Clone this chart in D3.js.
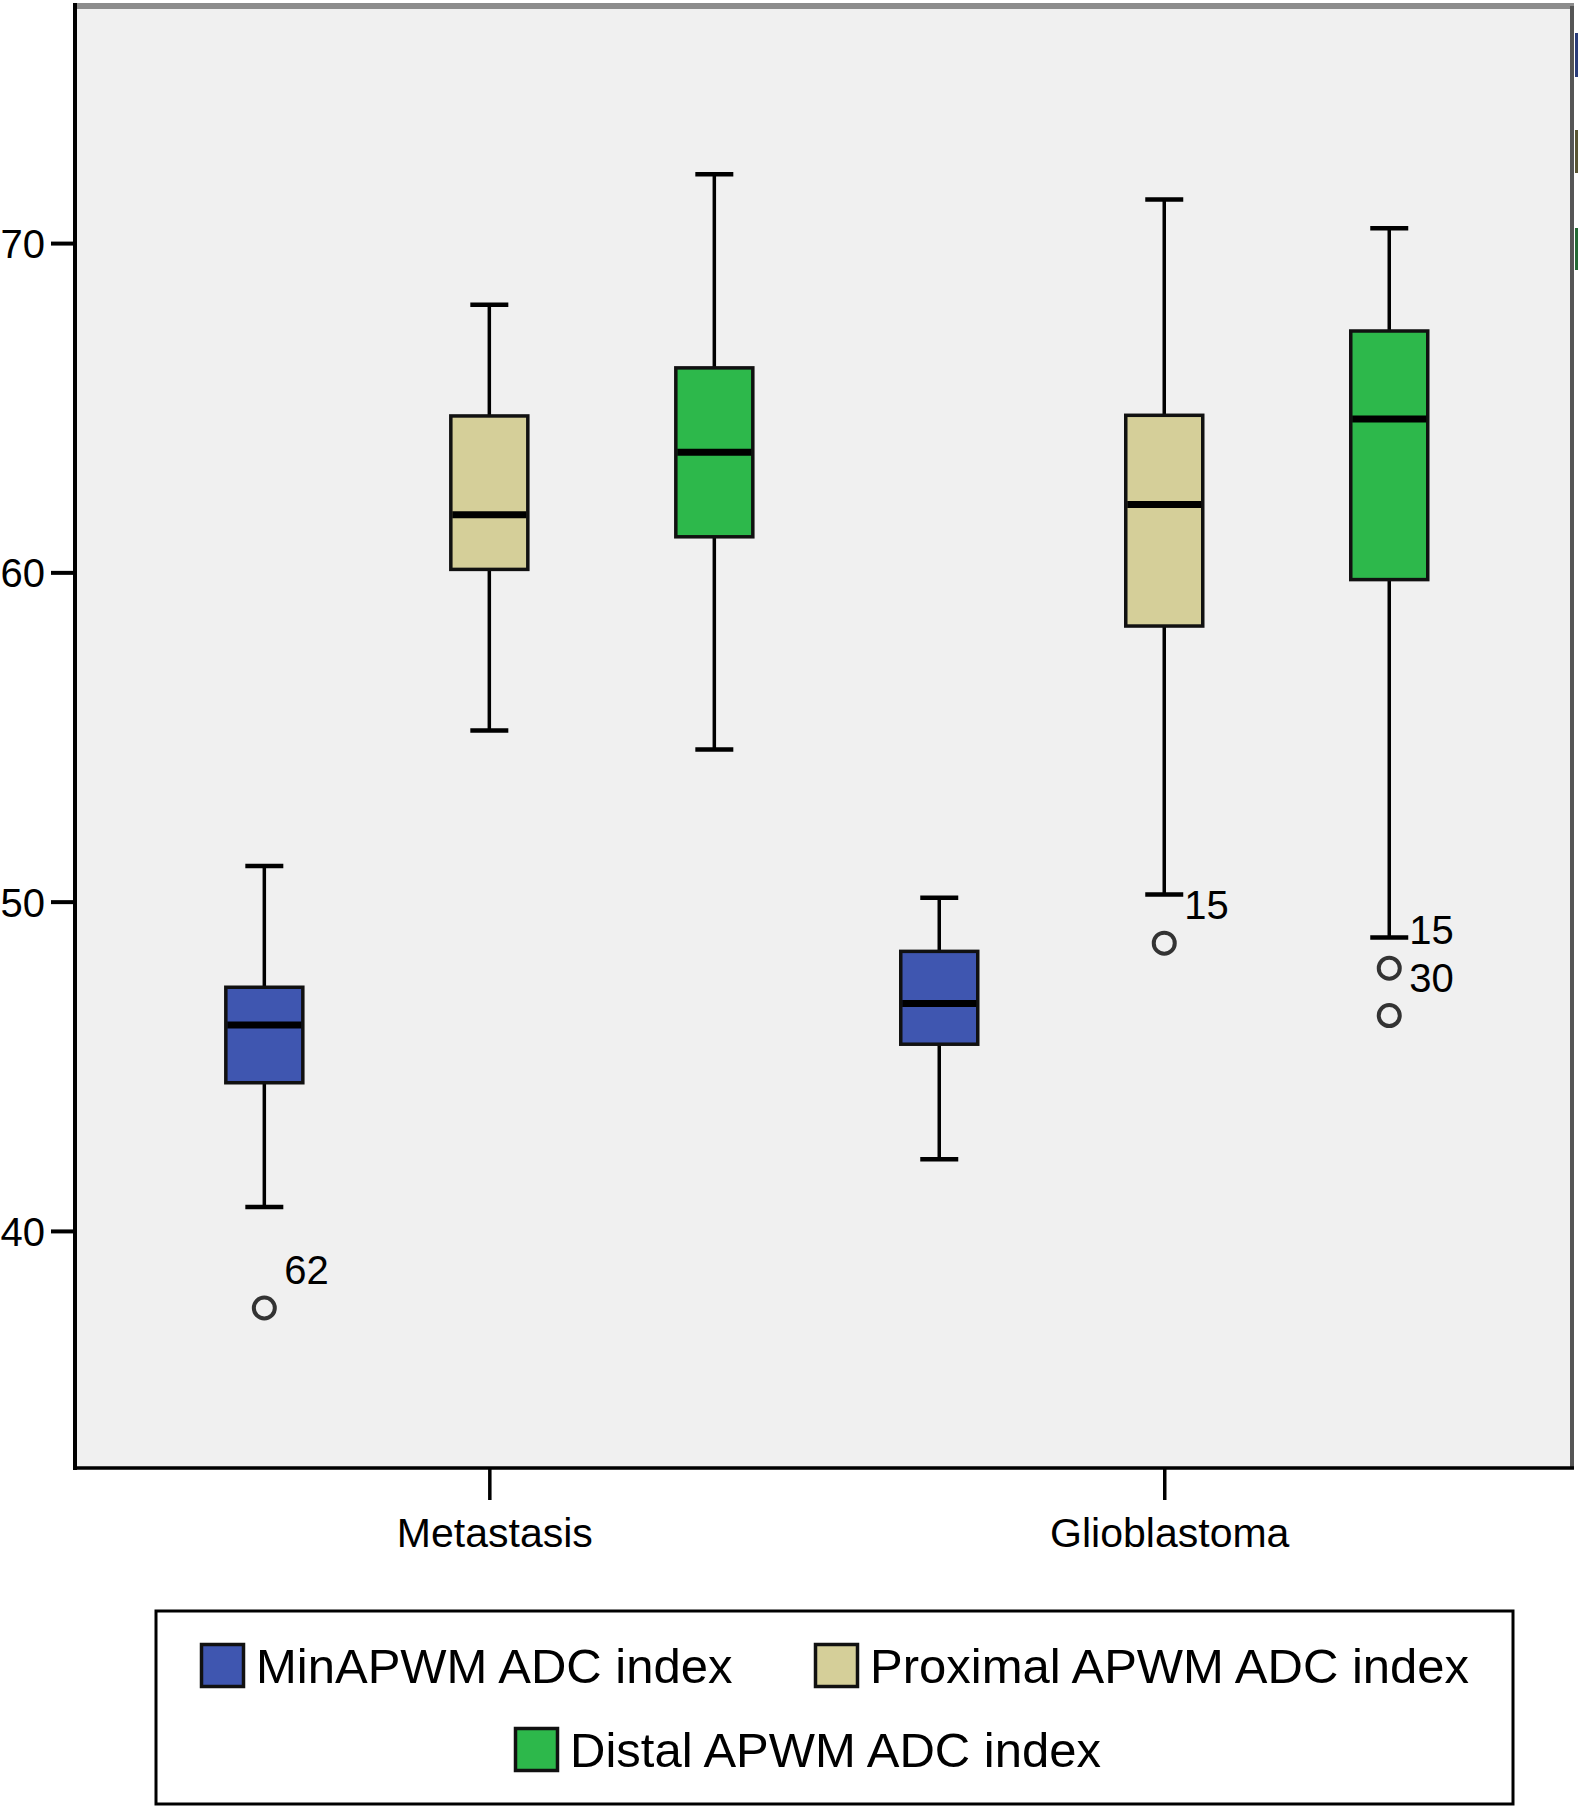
<!DOCTYPE html>
<html>
<head>
<meta charset="utf-8">
<script src="https://cdn.jsdelivr.net/npm/d3@7"></script>
<style>
  html, body { margin: 0; padding: 0; background: #ffffff; }
  svg { display: block; }
  text { font-family: "Liberation Sans", Arial, Helvetica, sans-serif; fill: #000; }
</style>
</head>
<body>
<svg id="chart" width="1578" height="1806"></svg>
<script>
// ---------- data ----------
const categories = ["Metastasis", "Glioblastoma"];
const series = ["MinAPWM ADC index", "Proximal APWM ADC index", "Distal APWM ADC index"];
const seriesColors = ["#3f56b0", "#d5cf99", "#2db84b"];
const yTicks = [40, 50, 60, 70];

// [whiskerLow, q1, median, q3, whiskerHigh] per series, per category
const minAPWM      = [[40.73, 44.50, 46.25, 47.40, 51.08], [42.18, 45.67, 46.91, 48.49, 50.12]];
const proximalAPWM = [[55.20, 60.09, 61.75, 64.75, 68.13], [50.22, 58.37, 62.06, 64.77, 71.32]];
const distalAPWM   = [[54.62, 61.08, 63.65, 66.21, 72.09], [48.91, 59.78, 64.66, 67.33, 70.45]];

// outliers: [category index, series index, value, label]
const outliers = [
  [0, 0, 37.66, "62"],
  [1, 1, 48.74, "15"],
  [1, 2, 47.98, "15"],
  [1, 2, 46.54, "30"]
];

const seriesData = [minAPWM, proximalAPWM, distalAPWM];

// ---------- layout ----------
const svg = d3.select("#chart");
const plot = { left: 75, right: 1572, top: 6, bottom: 1468 };

const y = d3.scaleLinear().domain([32.8, 77.2]).range([plot.bottom, plot.top]);
const x = d3.scalePoint().domain(categories).range([plot.left, plot.right]).padding(0.609).align(0.504);
const xs = d3.scalePoint().domain(series).range([-225, 225]);

const boxW = 77;
const capW = 38;

// plot background
svg.append("rect")
  .attr("x", plot.left).attr("y", plot.top)
  .attr("width", plot.right - plot.left).attr("height", plot.bottom - plot.top)
  .attr("fill", "#f0f0f0");

// frame: top (grey) and right (dark grey)
svg.append("line")
  .attr("x1", plot.left).attr("x2", plot.right + 2)
  .attr("y1", plot.top).attr("y2", plot.top)
  .attr("stroke", "#8c8c8c").attr("stroke-width", 6);
svg.append("line")
  .attr("x1", plot.right).attr("x2", plot.right)
  .attr("y1", plot.top).attr("y2", plot.bottom)
  .attr("stroke", "#555").attr("stroke-width", 4);

// small cropped marks at far right edge
const edgeMarks = [["#2b3d7a", 33, 44], ["#5a5634", 130, 43], ["#256b36", 228, 42]];
svg.selectAll("rect.edge").data(edgeMarks).enter().append("rect")
  .attr("class", "edge")
  .attr("x", 1575).attr("width", 3)
  .attr("y", d => d[1]).attr("height", d => d[2])
  .attr("fill", d => d[0]);

// ---------- axes ----------
const yAxis = d3.axisLeft(y).tickValues(yTicks).tickSize(24).tickPadding(6).tickFormat(d3.format("d"));
const gy = svg.append("g").attr("transform", `translate(${plot.left},0)`).call(yAxis);
gy.select(".domain").remove();
gy.selectAll(".tick line").attr("stroke", "#000").attr("stroke-width", 4);
gy.selectAll(".tick text").attr("font-size", 40).attr("dy", "0.36em").style("fill", "#000");

const xAxis = d3.axisBottom(x).tickSize(32).tickPadding(10);
const gx = svg.append("g").attr("transform", `translate(0,${plot.bottom})`).call(xAxis);
gx.select(".domain").remove();
gx.selectAll(".tick line").attr("stroke", "#000").attr("stroke-width", 3.5);
gx.selectAll(".tick text").attr("font-size", 41).attr("dx", 5).attr("dy", "0.9em").style("fill", "#000");

// axis lines
svg.append("line")
  .attr("x1", plot.left).attr("x2", plot.left)
  .attr("y1", plot.top - 3).attr("y2", plot.bottom + 2)
  .attr("stroke", "#000").attr("stroke-width", 4);
svg.append("line")
  .attr("x1", plot.left).attr("x2", plot.right + 2)
  .attr("y1", plot.bottom).attr("y2", plot.bottom)
  .attr("stroke", "#000").attr("stroke-width", 3.5);

// ---------- boxes ----------
const boxes = [];
categories.forEach((c, ci) => {
  series.forEach((s, si) => {
    const v = seriesData[si][ci];
    boxes.push({ c, s, si, lo: v[0], q1: v[1], med: v[2], q3: v[3], hi: v[4] });
  });
});

const g = svg.append("g");
const bg = g.selectAll("g.box").data(boxes).enter().append("g")
  .attr("class", "box")
  .attr("transform", d => `translate(${x(d.c) + xs(d.s)},0)`);

// whiskers
bg.append("line").attr("x1", 0).attr("x2", 0)
  .attr("y1", d => y(d.hi)).attr("y2", d => y(d.q3))
  .attr("stroke", "#000").attr("stroke-width", 3.5);
bg.append("line").attr("x1", 0).attr("x2", 0)
  .attr("y1", d => y(d.q1)).attr("y2", d => y(d.lo))
  .attr("stroke", "#000").attr("stroke-width", 3.5);
// caps
bg.append("line").attr("x1", -capW / 2).attr("x2", capW / 2)
  .attr("y1", d => y(d.hi)).attr("y2", d => y(d.hi))
  .attr("stroke", "#000").attr("stroke-width", 4.5);
bg.append("line").attr("x1", -capW / 2).attr("x2", capW / 2)
  .attr("y1", d => y(d.lo)).attr("y2", d => y(d.lo))
  .attr("stroke", "#000").attr("stroke-width", 4.5);
// box
bg.append("rect")
  .attr("x", -boxW / 2).attr("width", boxW)
  .attr("y", d => y(d.q3)).attr("height", d => y(d.q1) - y(d.q3))
  .attr("fill", d => seriesColors[d.si])
  .attr("stroke", "#111").attr("stroke-width", 3.5);
// median
bg.append("line").attr("x1", -boxW / 2 + 1.5).attr("x2", boxW / 2 - 1.5)
  .attr("y1", d => y(d.med)).attr("y2", d => y(d.med))
  .attr("stroke", "#000").attr("stroke-width", 7);

// outliers
const og = g.selectAll("g.out").data(outliers).enter().append("g")
  .attr("class", "out")
  .attr("transform", d => `translate(${x(categories[d[0]]) + xs(series[d[1]])},${y(d[2])})`);
og.append("circle").attr("r", 10.5)
  .attr("fill", "none").attr("stroke", "#333").attr("stroke-width", 4);
og.append("text").attr("x", 20).attr("y", -24)
  .attr("font-size", 40).text(d => d[3]);

// ---------- legend ----------
const legend = svg.append("g");
legend.append("rect")
  .attr("x", 156).attr("y", 1611).attr("width", 1357).attr("height", 193)
  .attr("fill", "#fff").attr("stroke", "#000").attr("stroke-width", 3);

const legendPos = [[200, 1643], [814, 1643], [514, 1727]];
const li = legend.selectAll("g.li").data(series).enter().append("g")
  .attr("class", "li")
  .attr("transform", (d, i) => `translate(${legendPos[i][0]},${legendPos[i][1]})`);
li.append("rect").attr("x", 1.5).attr("y", 1.5).attr("width", 42).attr("height", 42)
  .attr("fill", (d, i) => seriesColors[i])
  .attr("stroke", "#111").attr("stroke-width", 3.5);
li.append("text").attr("x", 56).attr("y", 40)
  .attr("font-size", 49).text(d => d);
</script>
</body>
</html>
